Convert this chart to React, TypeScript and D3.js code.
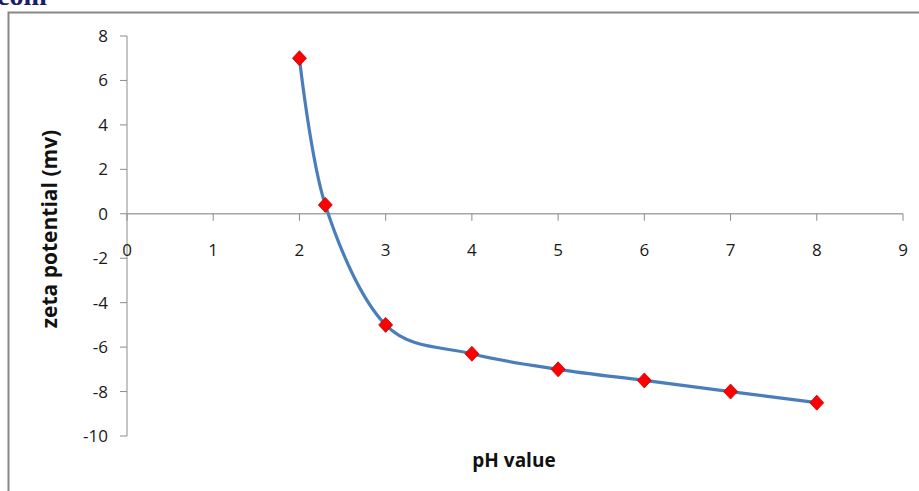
import React from "react";
import * as d3 from "d3";

// pH vs zeta potential measurements
const phValues = [2, 2.3, 3, 4, 5, 6, 7, 8];
const zetaValues = [7, 0.4, -5, -6.3, -7, -7.5, -8, -8.5];
const xTicks = [0, 1, 2, 3, 4, 5, 6, 7, 8, 9];
const yTicks = [8, 6, 4, 2, 0, -2, -4, -6, -8, -10];

const W = 919;
const H = 491;
const FONT = "'Open Sans', 'Liberation Sans', sans-serif";

export default function App() {
  const x = d3.scaleLinear().domain([0, 9]).range([127, 903]);
  const y = d3.scaleLinear().domain([-10, 8]).range([436, 36]);

  const pts: [number, number][] = phValues.map((p, i) => [x(p), y(zetaValues[i])]);
  const line = d3.line().curve(d3.curveCardinal.tension(0))(pts) || "";

  const axisColor = "#8c8c8c";

  return (
    <svg
      width={W}
      height={H}
      style={{ position: "absolute", left: 0, top: 0, background: "#fff" }}
    >
      <text
        x={-3}
        y={5}
        fontFamily="'Liberation Serif', serif"
        fontWeight="bold"
        fontSize={28}
        fill="#1c1c6a"
      >
        com
      </text>
      {/* outer frame */}
      <rect x={8.5} y={12.5} width={W + 10} height={H + 10} fill="none" stroke="#888" strokeWidth={2} />

      {/* y axis */}
      <line x1={x(0)} x2={x(0)} y1={y(8)} y2={y(-10)} stroke={axisColor} strokeWidth={1} />
      {yTicks.map((t) => (
        <g key={"y" + t}>
          <line x1={x(0) - 7} x2={x(0)} y1={y(t)} y2={y(t)} stroke={axisColor} strokeWidth={1} />
          <text
            x={108}
            y={y(t)}
            dy="0.35em"
            textAnchor="end"
            fontFamily={FONT}
            fontSize={17}
            fill="#1a1a1a"
          >
            {t}
          </text>
        </g>
      ))}

      {/* x axis at zero */}
      <line x1={x(0)} x2={x(9)} y1={y(0)} y2={y(0)} stroke="#a6a6a6" strokeWidth={1.5} />
      {xTicks.map((t) => (
        <g key={"x" + t}>
          <line x1={x(t)} x2={x(t)} y1={y(0)} y2={y(0) + 7} stroke={axisColor} strokeWidth={1} />
          <text
            x={x(t)}
            y={250}
            dy="0.35em"
            textAnchor="middle"
            fontFamily={FONT}
            fontSize={17}
            fill="#1a1a1a"
          >
            {t}
          </text>
        </g>
      ))}

      {/* series */}
      <path d={line} fill="none" stroke="#4a7ebb" strokeWidth={3.2} strokeLinecap="round" />
      {pts.map(([px, py], i) => (
        <path
          key={"m" + i}
          d={`M${px},${py - 7.5}L${px + 7},${py}L${px},${py + 7.5}L${px - 7},${py}Z`}
          fill="#ff0000"
          stroke="#c00000"
          strokeWidth={0.8}
        />
      ))}

      {/* axis titles */}
      <text
        x={514}
        y={460}
        dy="0.35em"
        textAnchor="middle"
        fontFamily={FONT}
        fontWeight="bold"
        fontSize={19}
        fill="#111"
      >
        pH value
      </text>
      <text
        transform={`translate(50,229) rotate(-90)`}
        dy="0.35em"
        textAnchor="middle"
        fontFamily={FONT}
        fontWeight="bold"
        fontSize={21}
        fill="#111"
      >
        zeta potential (mv)
      </text>
    </svg>
  );
}
